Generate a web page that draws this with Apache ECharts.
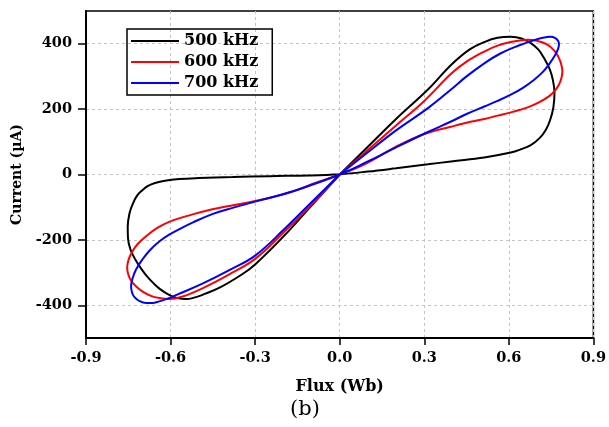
<!DOCTYPE html>
<html>
<head>
<meta charset="utf-8">
<script src="https://cdn.jsdelivr.net/npm/echarts@6/dist/echarts.min.js"></script>
<style>
    html, body { margin: 0; padding: 0; background: #fff; }
    #chart { width: 609px; height: 427px; }
</style>
</head>
<body>
<div id="chart"></div>
<script>
const seriesNames = ['500 kHz', '600 kHz', '700 kHz']
const seriesColors = ['#000000', '#ff0000', '#0000ff']
const xTicks = [-0.9, -0.6, -0.3, 0, 0.3, 0.6, 0.9]
const yTicks = [-400, -200, 0, 200, 400]

// [flux, current] pairs, traced around each loop
const loop500 = [
    [0, 0], [0.1, 85], [0.2, 170], [0.313, 260], [0.395, 335], [0.46, 382],
    [0.513, 405], [0.56, 418], [0.607, 421], [0.645, 416], [0.678, 402],
    [0.705, 382], [0.725, 356], [0.745, 322], [0.756, 290], [0.762, 250],
    [0.758, 205], [0.746, 165], [0.731, 136], [0.71, 112], [0.678, 90],
    [0.64, 76], [0.607, 67], [0.513, 52], [0.395, 40], [0.313, 31],
    [0.2, 19], [0.1, 9], [0, 1], [-0.11, -3], [-0.25, -5], [-0.38, -8],
    [-0.5, -11], [-0.57, -14], [-0.62, -19], [-0.655, -26], [-0.68, -35],
    [-0.7, -48], [-0.72, -66], [-0.735, -92], [-0.746, -120], [-0.752, -160],
    [-0.751, -195], [-0.742, -230], [-0.725, -260], [-0.705, -287],
    [-0.685, -310], [-0.66, -333], [-0.635, -352], [-0.605, -368],
    [-0.575, -378], [-0.545, -381], [-0.51, -375], [-0.487, -368],
    [-0.428, -347], [-0.346, -305], [-0.3, -275], [-0.2, -190],
    [-0.1, -95], [0, 0]
]

const loop600 = [
    [0, 0], [0.1, 75], [0.2, 150], [0.3, 225], [0.395, 308], [0.45, 345],
    [0.513, 376], [0.56, 394], [0.607, 405], [0.64, 410], [0.666, 412],
    [0.7, 409], [0.737, 397], [0.762, 378], [0.778, 356], [0.787, 333],
    [0.79, 315], [0.786, 293], [0.777, 274], [0.762, 255], [0.742, 239],
    [0.71, 222], [0.678, 209], [0.64, 198], [0.607, 190], [0.56, 180],
    [0.513, 170], [0.45, 158], [0.395, 146], [0.3, 124], [0.2, 85],
    [0.09, 32], [0, 0], [-0.087, -26], [-0.134, -42], [-0.205, -62],
    [-0.3, -81], [-0.404, -98], [-0.452, -106], [-0.522, -122],
    [-0.605, -145], [-0.65, -165], [-0.687, -189], [-0.715, -211],
    [-0.734, -233], [-0.748, -258], [-0.754, -284], [-0.75, -306],
    [-0.74, -325], [-0.72, -344], [-0.699, -358], [-0.67, -371],
    [-0.64, -378], [-0.605, -381], [-0.56, -374], [-0.487, -348],
    [-0.393, -306], [-0.3, -258], [-0.2, -178], [-0.1, -92], [0, 0]
]

const loop700 = [
    [0, 0], [0.1, 68], [0.2, 135], [0.313, 203], [0.395, 260], [0.45, 300],
    [0.513, 340], [0.57, 370], [0.631, 393], [0.69, 411], [0.72, 418],
    [0.748, 421], [0.765, 417], [0.775, 408], [0.778, 398], [0.775, 385],
    [0.765, 366], [0.742, 336], [0.72, 313], [0.69, 290], [0.65, 265],
    [0.607, 244], [0.56, 225], [0.513, 208], [0.45, 185], [0.395, 162],
    [0.313, 130], [0.2, 83], [0.1, 40], [0, 0], [-0.134, -42],
    [-0.205, -61], [-0.3, -83], [-0.38, -102], [-0.452, -121],
    [-0.522, -147], [-0.56, -163], [-0.605, -184], [-0.64, -205],
    [-0.675, -233], [-0.7, -260], [-0.722, -290], [-0.735, -318],
    [-0.74, -342], [-0.737, -360], [-0.728, -375], [-0.71, -387],
    [-0.687, -393], [-0.665, -393], [-0.64, -388], [-0.605, -378],
    [-0.581, -369], [-0.487, -334], [-0.39, -292], [-0.3, -248],
    [-0.2, -170], [-0.1, -85], [0, 0]
]

const loops = [loop500, loop600, loop700]

const serif = "'DejaVu Serif', serif"
const chart = echarts.init(document.getElementById('chart'), null, { renderer: 'canvas' })

chart.setOption({
    animation: false,
    backgroundColor: '#fff',
    grid: {
        left: 86, right: 13, top: 11, bottom: 89,
        show: true,
        borderColor: '#000',
        borderWidth: 1.5
    },
    legend: {
        orient: 'vertical',
        left: 127, top: 29,
        padding: [4, 14, 4, 3],
        itemGap: 5,
        itemWidth: 48,
        itemHeight: 14,
        borderColor: '#000',
        borderWidth: 1.5,
        borderRadius: 0,
        itemStyle: { opacity: 0 },
        textStyle: { fontFamily: serif, fontWeight: 'bold', fontSize: 16, lineHeight: 16, color: '#000' },
        data: seriesNames
    },
    xAxis: {
        type: 'value',
        min: -0.9, max: 0.9, interval: 0.3,
        name: 'Flux (Wb)',
        nameLocation: 'middle',
        nameGap: 41,
        nameTextStyle: { fontFamily: serif, fontWeight: 'bold', fontSize: 16, color: '#000' },
        axisLine: { onZero: false, lineStyle: { color: '#000', width: 2 } },
        axisTick: { inside: false, length: 7, lineStyle: { color: '#000', width: 1.5 } },
        axisLabel: {
            margin: 13,
            fontFamily: serif, fontWeight: 'bold', fontSize: 14.5, color: '#000',
            formatter: v => (Math.abs(v) < 1e-9 ? 0 : v).toFixed(1)
        },
        splitLine: { show: true, lineStyle: { color: '#c4c4c4', width: 1, type: [3, 3] } }
    },
    yAxis: {
        type: 'value',
        min: -500, max: 500, interval: 100,
        name: 'Current (µA)',
        nameLocation: 'middle',
        nameGap: 58,
        nameTextStyle: { fontFamily: serif, fontWeight: 'bold', fontSize: 14, color: '#000' },
        axisLine: { onZero: false, lineStyle: { color: '#000', width: 2 } },
        axisTick: { inside: false, length: 8, customValues: yTicks, lineStyle: { color: '#000', width: 1.5 } },
        axisLabel: {
            margin: 14, customValues: yTicks,
            fontFamily: serif, fontWeight: 'bold', fontSize: 14.5, color: '#000'
        },
        splitLine: { show: true, lineStyle: { color: '#c4c4c4', width: 1, type: [3, 3] } }
    },
    series: loops.map((data, i) => ({
        name: seriesNames[i],
        type: 'line',
        data: data,
        smooth: 0.4,
        symbol: 'none',
        color: seriesColors[i],
        lineStyle: { color: seriesColors[i], width: 2 }
    })),
    graphic: [{
        type: 'text',
        left: 290, top: 399,
        style: { text: '(b)', font: "21px 'DejaVu Serif', serif", fill: '#000' }
    }]
})
</script>
</body>
</html>
